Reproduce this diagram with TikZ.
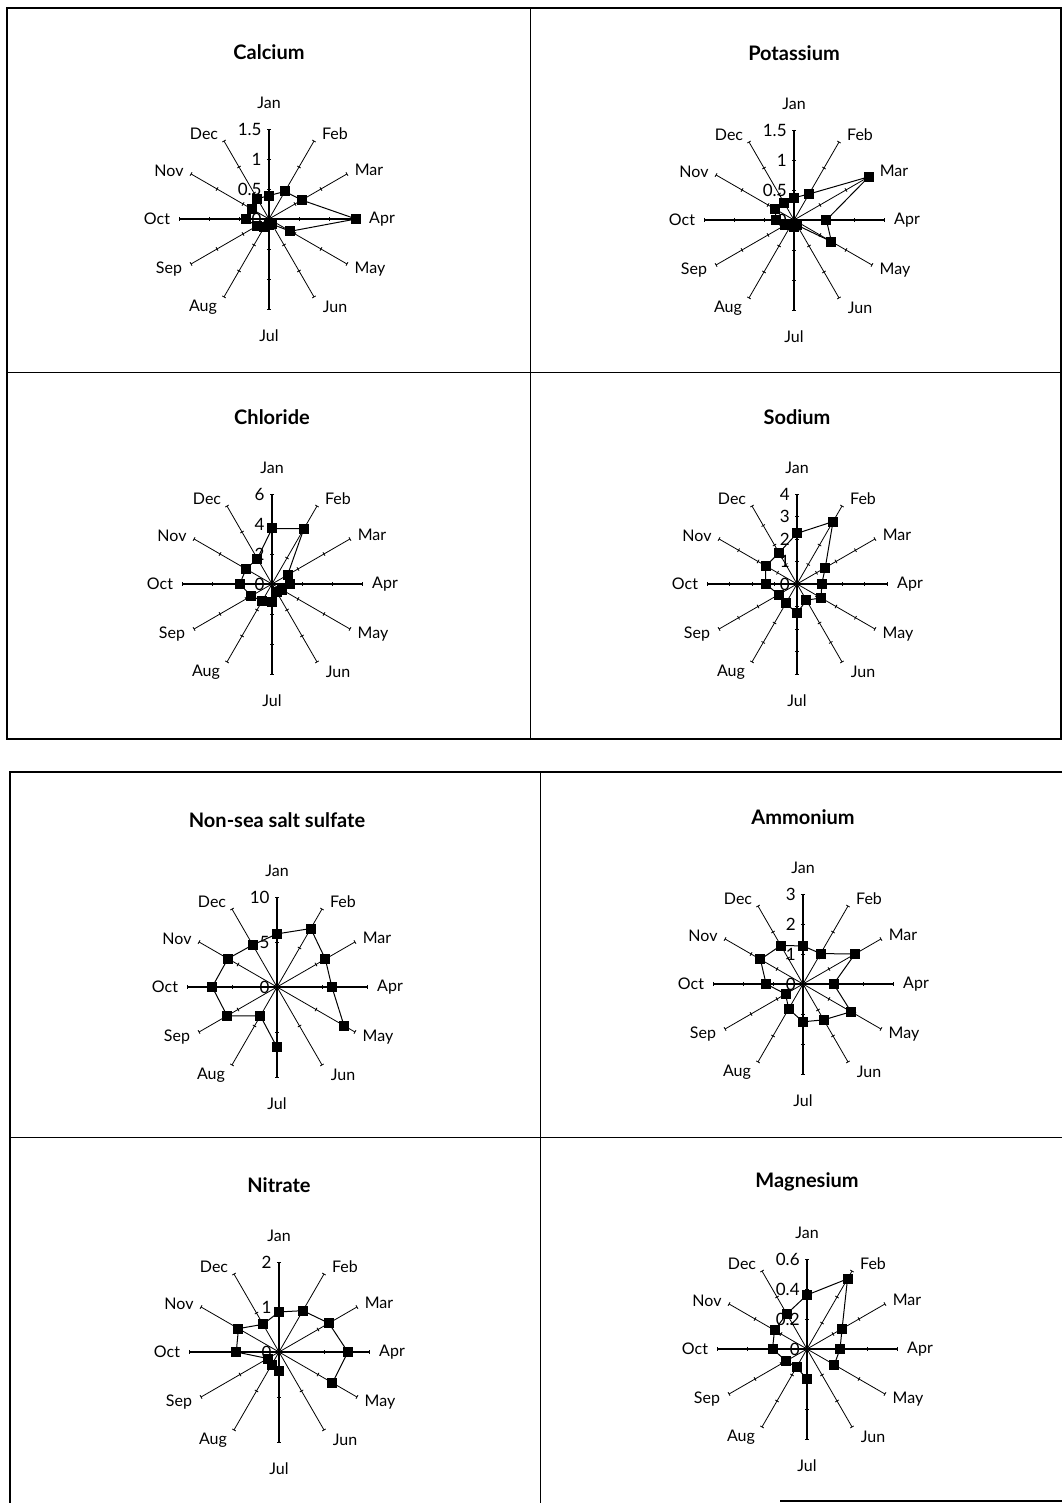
\documentclass[tikz,border=0pt]{standalone}
\usepackage{fontspec}
\setmainfont{Lato}

\tikzset{
  spoke/.style={line width=0.4pt},
  vaxis/.style={line width=0.7pt},
  series/.style={line width=0.5pt},
  marker/.style={rectangle, fill=black, inner sep=0pt, minimum size=5pt},
  month/.style={font=\fontsize{8}{9}\selectfont, inner sep=0pt},
  ticklab/.style={font=\fontsize{8.5}{10}\selectfont, inner sep=0pt, anchor=east},
  paneltitle/.style={font=\bfseries\fontsize{10}{12}\selectfont, inner sep=0pt},
  frame/.style={line width=1pt},
  divider/.style={line width=0.5pt}
}

\def\monthlabels{Jan/0/116, Feb/66/85, Mar/100/49, Apr/113/0, May/101/-50, Jun/66/-88,
  Jul/0/-117, Aug/-66/-88, Sep/-100/-50, Oct/-112/0, Nov/-100/48, Dec/-65/85}

% #1 name, #2 centre, #3 top of scale, #4 scale labels, #5 monthly values (-1 = none), #6 title
\newcommand{\radar}[6]{%
  \begin{scope}[shift={(#2)}]
    \coordinate (#1-o) at (0,0);
    \node[paneltitle] (#1-title) at (0,167) {#6};
    \foreach \m/\lx/\ly [count=\i from 0] in \monthlabels {
      \pgfmathsetmacro\ang{90-30*\i}
      \coordinate (#1-e\i) at (\ang:90);
      \draw[spoke] (#1-o) -- (#1-e\i);
      \node[month] (#1-m\i) at (\lx,\ly) {\m};
      \foreach \t in {#4} {
        \draw[spoke, rotate=\ang] ({\t/#3*90},-2) -- ({\t/#3*90},2);
      }
    }
    \draw[vaxis] (#1-e0) -- (#1-e6);
    \draw[vaxis] (#1-e3) -- (#1-e9);
    \foreach \t [count=\k] in {#4} {
      \node[ticklab] (#1-s\k) at (-7,{\t/#3*90}) {\t};
    }
    \foreach \i in {0,...,11} {
      \pgfmathsetmacro\v{{#5}[\i]}
      \ifdim\v pt<0pt\else
        \coordinate (#1-d\i) at ({90-30*\i}:{\v/#3*90});
      \fi
    }
    \foreach \i in {0,...,11} {
      \pgfmathtruncatemacro\j{mod(\i+1,12)}
      \pgfmathsetmacro\v{{#5}[\i]}
      \pgfmathsetmacro\w{{#5}[\j]}
      \ifdim\v pt<0pt\else\ifdim\w pt<0pt\else
        \draw[series] (#1-d\i) -- (#1-d\j);
      \fi\fi
    }
    \foreach \i in {0,...,11} {
      \pgfmathsetmacro\v{{#5}[\i]}
      \ifdim\v pt<0pt\else
        \node[marker] (#1-p\i) at (#1-d\i) {};
      \fi
    }
  \end{scope}
}

\begin{document}
\begin{tikzpicture}[x=0.5pt, y=0.5pt]
  \useasboundingbox (0,0) rectangle (1062,1503);

  % upper sheet
  \draw[frame] (7,764) rectangle (1061,1495);
  \draw[divider] (530,764) -- (530,1495);
  \draw[divider] (7,1130) -- (1061,1130);

  % lower sheet
  \draw[frame] (1062,731) -- (10,731) -- (10,0);
  \draw[frame] (780,1.5) -- (1062,1.5);
  \draw[divider] (540,731) -- (540,0);
  \draw[divider] (10,365) -- (1062,365);

  \radar{ca}{269,1284}{1.5}{0,0.5,1,1.5}
    {0.39,0.53,0.63,1.45,0.41,0.1,0.1,0.16,0.24,0.38,0.33,0.39}{Calcium}
  \radar{k}{794,1283}{1.5}{0,0.5,1,1.5}
    {0.37,0.5,1.44,0.54,0.72,0.1,0.12,0.1,0.18,0.3,0.36,0.32}{Potassium}
  \radar{cl}{272,919}{6}{0,2,4,6}
    {3.7,4.25,1.2,1.2,0.8,0.6,1.2,1.3,1.6,2.15,2.0,1.95}{Chloride}
  \radar{na}{797,919}{4}{0,1,2,3,4}
    {2.25,3.2,1.45,1.1,1.24,0.83,1.3,0.99,0.94,1.4,1.6,1.6}{Sodium}
  \radar{nss}{277,516}{10}{0,5,10}
    {5.9,7.5,6.2,6.1,8.6,-1,6.7,3.7,6.4,7.2,6.3,5.4}{Non-sea salt sulfate}
  \radar{nh}{803,519}{3}{0,1,2,3}
    {1.27,1.17,2.0,1.02,1.85,1.38,1.26,0.96,0.67,1.23,1.64,1.48}{Ammonium}
  \radar{no}{279,151}{2}{0,1,2}
    {0.89,1.06,1.28,1.53,1.37,-1,0.43,0.33,0.29,0.95,1.04,0.71}{Nitrate}
  \radar{mg}{807,154}{0.6}{0,0.2,0.4,0.6}
    {0.36,0.54,0.27,0.22,0.21,-1,0.2,0.14,0.16,0.23,0.25,0.27}{Magnesium}
\end{tikzpicture}
\end{document}
